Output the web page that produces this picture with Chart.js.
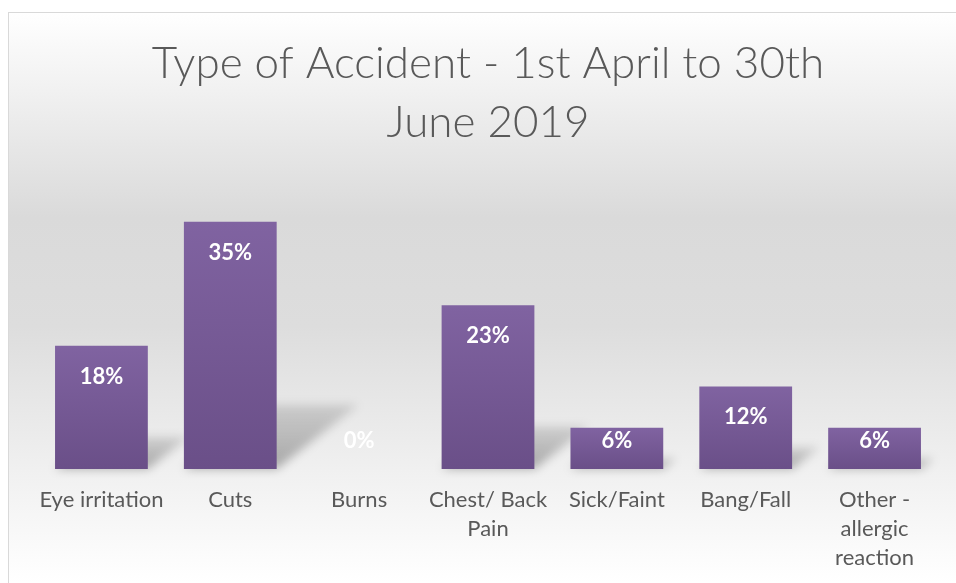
<!DOCTYPE html>
<html>
<head>
<meta charset="utf-8">
<script src="https://cdn.jsdelivr.net/npm/chart.js@4.4.1/dist/chart.umd.min.js"></script>
<style>
  body { margin: 0; background: #fff; }
  #wrap { width: 956px; height: 583px; }
</style>
</head>
<body>
<div id="wrap"><canvas id="mycanvas1" width="956" height="583"></canvas></div>
<script>
// accident types (share of all accidents, %)
var categories = [
	"Eye irritation",
	"Cuts",
	"Burns",
	["Chest/ Back", "Pain"],
	"Sick/Faint",
	"Bang/Fall",
	["Other -", "allergic", "reaction"]
];
var percents = [17.6, 35.3, 0, 23.4, 5.9, 11.8, 5.9];
var chartTitle = ["Type of Accident - 1st April to 30th", "June 2019"];

// background panel with soft grey gradient + thin border
var backgroundPanel = {
	id: "backgroundPanel",
	beforeDraw: function(chart) {
		var ctx = chart.ctx;
		var w = chart.width, h = chart.height;
		ctx.save();
		ctx.fillStyle = "#ffffff";
		ctx.fillRect(0, 0, w, h);
		var g = ctx.createLinearGradient(0, 12, 0, h);
		g.addColorStop(0, "#ffffff");
		g.addColorStop(0.36, "#dadada");
		g.addColorStop(0.55, "#dddddd");
		g.addColorStop(1, "#ffffff");
		ctx.fillStyle = g;
		ctx.fillRect(8, 12, w, h);
		ctx.strokeStyle = "#d9d9d9";
		ctx.lineWidth = 1;
		ctx.strokeRect(8.5, 12.5, w, h);
		ctx.restore();
	}
};

// perspective shadow behind each bar
var barShadows = {
	id: "barShadows",
	beforeDatasetsDraw: function(chart) {
		var ctx = chart.ctx;
		var meta = chart.getDatasetMeta(0);
		ctx.save();
		ctx.filter = "blur(5px)";
		meta.data.forEach(function(bar) {
			var hgt = bar.base - bar.y;
			if (hgt <= 0) return;
			var L = bar.x - bar.width / 2, R = bar.x + bar.width / 2;
			var dx = hgt * 0.33, dy = hgt * 0.26;
			var g = ctx.createLinearGradient(0, bar.base, 0, bar.base - dy);
			g.addColorStop(0, "rgba(0,0,0,0.30)");
			g.addColorStop(1, "rgba(0,0,0,0.12)");
			ctx.fillStyle = g;
			ctx.beginPath();
			ctx.moveTo(L, bar.base);
			ctx.lineTo(R, bar.base);
			ctx.lineTo(R + dx, bar.base - dy);
			ctx.lineTo(L + dx, bar.base - dy);
			ctx.closePath();
			ctx.fill();
		});
		ctx.restore();
	}
};

// white percentage labels inside the top of each bar
var valueLabels = {
	id: "valueLabels",
	afterDatasetsDraw: function(chart) {
		var ctx = chart.ctx;
		var meta = chart.getDatasetMeta(0);
		ctx.save();
		ctx.font = "bold 22px Lato";
		ctx.fillStyle = "#ffffff";
		ctx.textAlign = "center";
		ctx.textBaseline = "middle";
		meta.data.forEach(function(bar, i) {
			var y = Math.min(bar.y + 31, bar.base - 28);
			ctx.fillText(Math.round(percents[i]) + "%", bar.x, y);
		});
		ctx.restore();
	}
};

var ctx = document.getElementById("mycanvas1");

var BarGraph = new Chart(ctx, {
	type: "bar",
	data: {
		labels: categories,
		datasets: [{
			data: percents,
			backgroundColor: function(c) {
				var chart = c.chart;
				if (!chart.chartArea) return "#75599a";
				var y = chart.scales.y;
				var top = y.getPixelForValue(percents[c.dataIndex]);
				var bottom = y.getPixelForValue(0);
				if (bottom - top < 1) return "#75599a";
				var g = chart.ctx.createLinearGradient(0, top, 0, bottom);
				g.addColorStop(0, "#8063a1");
				g.addColorStop(1, "#6a4f88");
				return g;
			},
			borderWidth: 0,
			barPercentage: 0.9,
			categoryPercentage: 0.8
		}]
	},
	options: {
		responsive: false,
		animation: false,
		layout: { padding: { left: 37, right: 17, top: 12, bottom: 0 } },
		plugins: {
			legend: { display: false },
			tooltip: { enabled: false },
			title: {
				display: true,
				text: chartTitle,
				color: "#595959",
				font: { family: "Lato", size: 44, weight: "300", lineHeight: 1.34 },
				padding: { top: 22, bottom: 37 }
			}
		},
		scales: {
			x: {
				grid: { display: false, drawTicks: false },
				border: { display: false },
				ticks: {
					color: "#595959",
					font: { family: "Lato", size: 22, lineHeight: 1.32 },
					padding: 16,
					maxRotation: 0,
					autoSkip: false
				},
				afterFit: function(scale) { scale.height = 114; }
			},
			y: {
				display: false,
				min: 0,
				max: 40
			}
		}
	},
	plugins: [backgroundPanel, barShadows, valueLabels]
});
</script>
</body>
</html>
